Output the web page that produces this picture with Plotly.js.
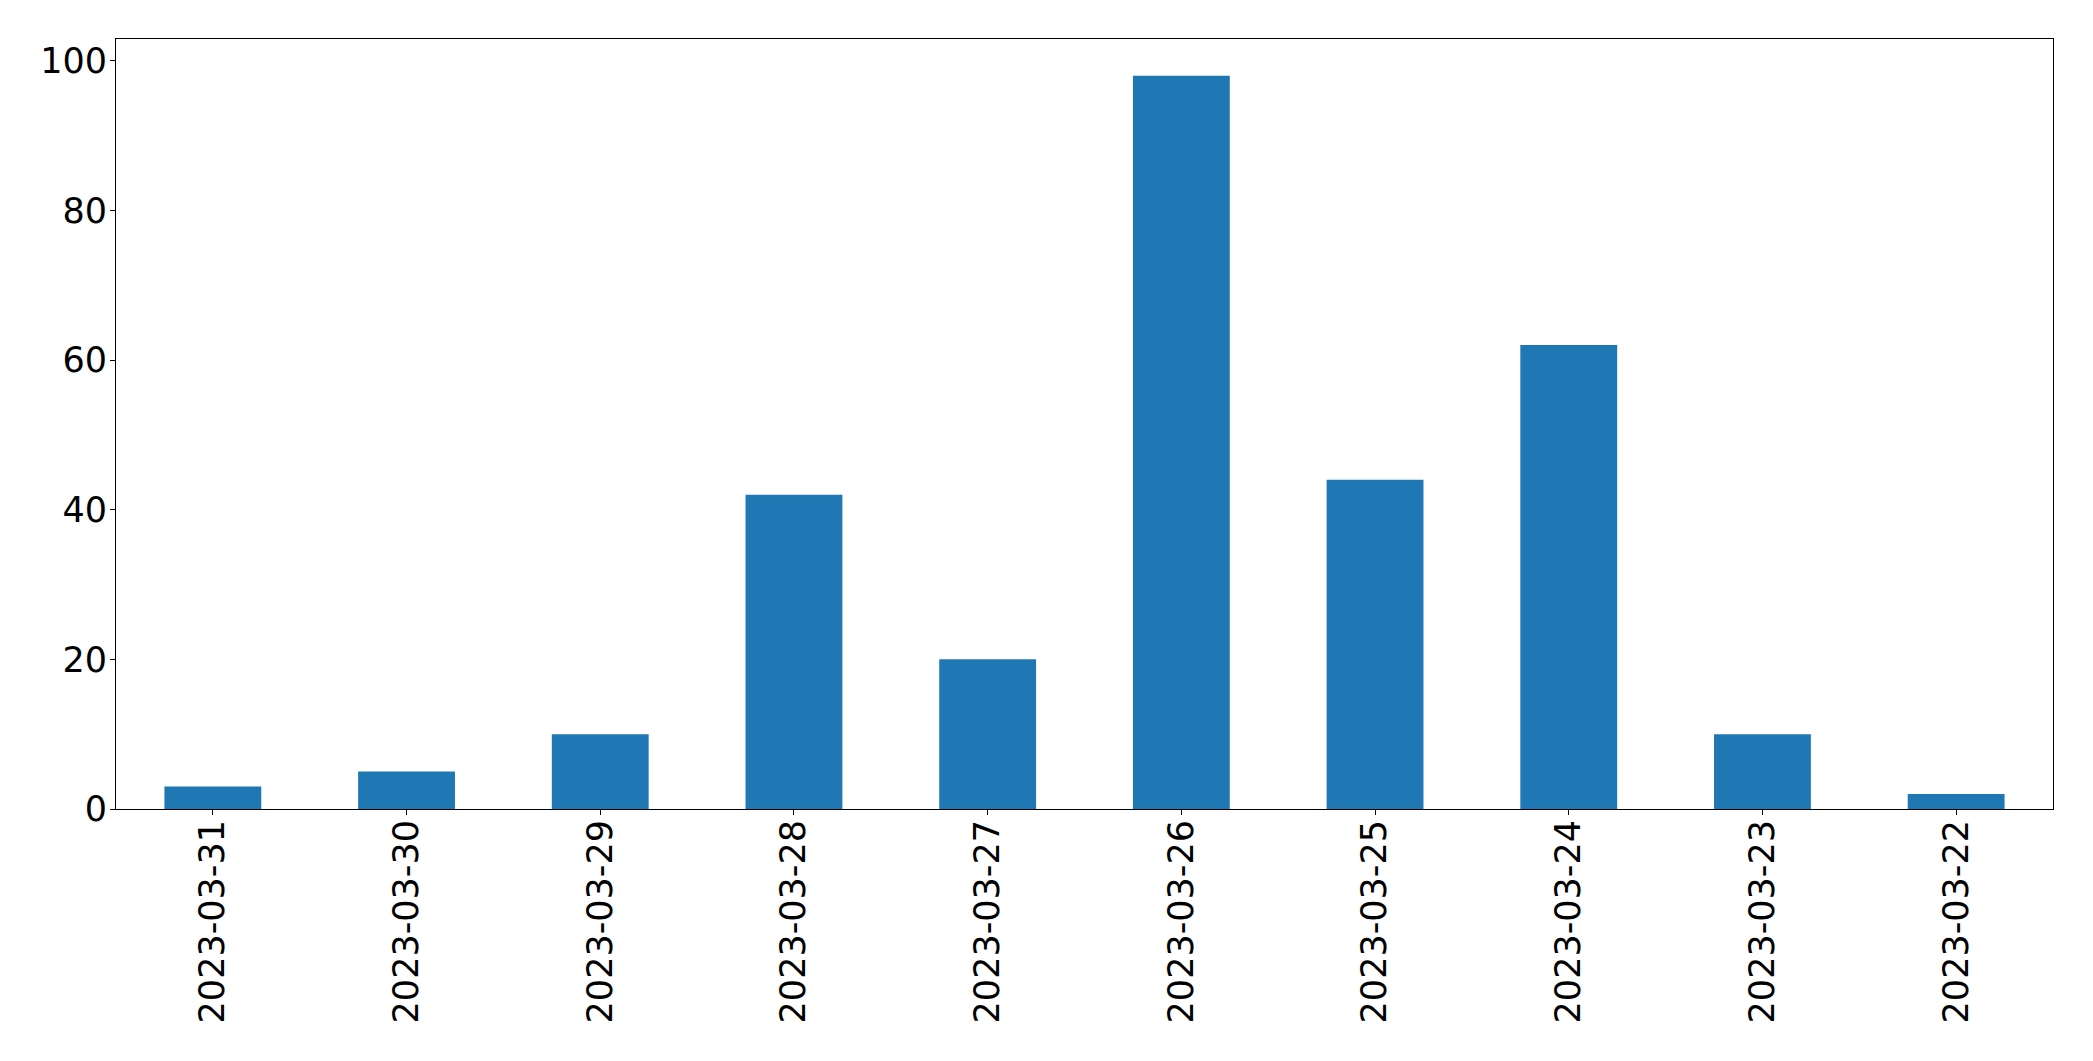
<!DOCTYPE html>
<html>
<head>
<meta charset="utf-8">
<script src="https://cdn.plot.ly/plotly-3.0.1.min.js"></script>
<style>html,body{margin:0;padding:0;background:#fff;}#chart{width:2093px;height:1061px;}</style>
</head>
<body>
<div id="chart"></div>
<script>
const dates = ["2023-03-31","2023-03-30","2023-03-29","2023-03-28","2023-03-27","2023-03-26","2023-03-25","2023-03-24","2023-03-23","2023-03-22"];
const counts = [3, 5, 10, 42, 20, 98, 44, 62, 10, 2];
const yTicks = [0, 20, 40, 60, 80, 100];

const font = {family: "DejaVu Sans", size: 35, color: "#000"};
Plotly.newPlot("chart", [{
  type: "bar",
  x: dates,
  y: counts,
  width: 0.5,
  marker: {color: "#1f77b4", line: {width: 0}},
  hoverinfo: "x+y"
}], {
  width: 2093, height: 1061,
  margin: {l: 116, r: 40, t: 39, b: 252, pad: 0},
  paper_bgcolor: "#fff", plot_bgcolor: "#fff",
  showlegend: false,
  bargap: 0.5,
  xaxis: {
    type: "category",
    range: [-0.5, 9.5],
    tickangle: -90,
    ticks: "outside", ticklen: 5, tickwidth: 1, tickcolor: "#000",
    showline: true, linecolor: "#000", linewidth: 1, mirror: true,
    showgrid: false, zeroline: false,
    tickfont: font,
    ticklabelstandoff: -9
  },
  yaxis: {
    range: [0, 102.9],
    tickmode: "array", tickvals: yTicks, ticktext: yTicks.map(String),
    ticks: "outside", ticklen: 5, tickwidth: 1, tickcolor: "#000",
    showline: true, linecolor: "#000", linewidth: 1, mirror: true,
    showgrid: false, zeroline: false,
    tickfont: font,
    ticklabelstandoff: -4
  }
}, {displayModeBar: false, staticPlot: true});
</script>
</body>
</html>
